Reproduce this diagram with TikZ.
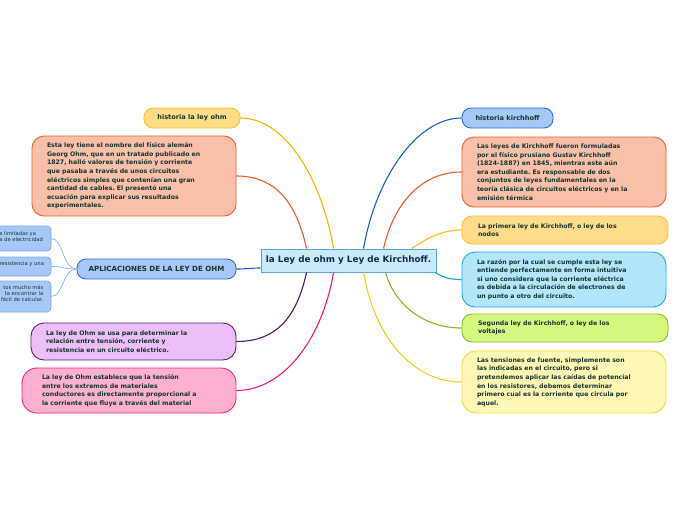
\documentclass[tikz,border=0pt]{standalone}
\usepackage{fontspec}
\setmainfont{DejaVu Sans}
\frenchspacing
\definecolor{txt}{HTML}{17352E}
\definecolor{ctxt}{HTML}{152A4A}
\definecolor{cfill}{HTML}{C8EAFB}
\definecolor{cdraw}{HTML}{5BA3D9}
\definecolor{ofill}{HTML}{FFDD88}
\definecolor{odraw}{HTML}{FFC125}
\definecolor{oline}{HTML}{F7B500}
\definecolor{rfill}{HTML}{F8BFA9}
\definecolor{rdraw}{HTML}{F0602E}
\definecolor{rline}{HTML}{F05A28}
\definecolor{bfill}{HTML}{A6C8F7}
\definecolor{bdraw}{HTML}{2D6FD2}
\definecolor{bline}{HTML}{1A5FC8}
\definecolor{pfill}{HTML}{ECBFF8}
\definecolor{pdraw}{HTML}{5C1E6E}
\definecolor{pline}{HTML}{4A1A6A}
\definecolor{kfill}{HTML}{FEB0D0}
\definecolor{kdraw}{HTML}{F2247A}
\definecolor{kline}{HTML}{F01E6E}
\definecolor{sdraw}{HTML}{7AAAE8}
\definecolor{sline}{HTML}{8DB5EA}
\definecolor{yfill}{HTML}{FFDC8C}
\definecolor{ydraw}{HTML}{FFC030}
\definecolor{yline}{HTML}{FFB81C}
\definecolor{zfill}{HTML}{B3E6FB}
\definecolor{zdraw}{HTML}{1BA8EA}
\definecolor{zline}{HTML}{10A0E8}
\definecolor{gfill}{HTML}{D7F880}
\definecolor{gdraw}{HTML}{8CBE22}
\definecolor{gline}{HTML}{88B820}
\definecolor{tfill}{HTML}{FFF8B6}
\definecolor{tdraw}{HTML}{F2D830}
\definecolor{tline}{HTML}{F0D020}
\begin{document}
\begin{tikzpicture}[x=1pt,y=-1pt,
  box/.style={rounded corners=12pt, line width=0.9pt, inner ysep=0pt, text=txt,
    font=\bfseries\fontsize{6.2}{8.6}\selectfont\frenchspacing, align=left},
  pill/.style={rounded corners=9pt, line width=0.9pt, inner sep=0pt, text=txt,
    font=\bfseries\fontsize{6.6}{8}\selectfont, align=center},
  subbox/.style={rounded corners=4pt, line width=0.7pt, inner sep=0pt, fill=bfill, draw=sdraw},
  subtext/.style={inner sep=0pt, text=txt, font=\fontsize{5.2}{5.9}\selectfont},
  conn/.style={line width=1.1pt},
  subconn/.style={line width=0.7pt, draw=sline}]
\useasboundingbox[fill=white] (0,0) rectangle (696,520);

% center
\node[draw=cdraw, fill=cfill, line width=0.9pt, inner sep=0pt, minimum width=175pt, minimum height=23pt,
  text=ctxt, font=\bfseries\fontsize{8.8}{10}\selectfont] (c) at (348.5,260.5) {la Ley de ohm y Ley de Kirchhoff.};

% left side
\node[pill, fill=ofill, draw=odraw, minimum width=96pt, minimum height=20pt] (h1) at (192,118) {historia la ley ohm};
\node[box, fill=rfill, draw=rdraw, minimum width=204pt, minimum height=80pt, text width=174pt, inner xsep=15pt] (e1) at (134,176)
 {Esta ley tiene el nombre del físico alemán\\Georg Ohm, que en un tratado publicado en\\1827, halló valores de tensión y corriente\\que pasaba a través de unos circuitos\\eléctricos simples que contenían una gran\\cantidad de cables. El presentó una\\ecuación para explicar sus resultados\\experimentales.};
\node[pill, fill=bfill, draw=bdraw, minimum width=159pt, minimum height=20pt, font=\bfseries\fontsize{7.1}{8}\selectfont] (ap) at (156.5,269) {APLICACIONES DE LA LEY DE OHM};
\node[box, fill=pfill, draw=pdraw, rounded corners=13pt, minimum width=205pt, minimum height=37pt, text width=175pt, inner xsep=15pt] (pu) at (133.5,341.5)
 {La ley de Ohm se usa para determinar la\\relación entre tensión, corriente y\\resistencia en un circuito eléctrico.};
\node[box, fill=kfill, draw=kdraw, rounded corners=15pt, minimum width=214pt, minimum height=45pt, text width=174pt, inner xsep=20pt] (pk) at (129,390.5)
 {La ley de Ohm establece que la tensión\\entre los extremos de materiales\\conductores es directamente proporcional a\\la corriente que fluye a través del material};

% sub nodes of APLICACIONES
\node[subbox, minimum width=61pt, minimum height=25pt] (s1) at (20.5,238.5) {};
\node[subbox, minimum width=61pt, minimum height=19pt] (s2) at (20.5,266.5) {};
\node[subbox, minimum width=61pt, minimum height=31pt] (s3) at (20.5,296.5) {};
\node[subtext, align=left, anchor=west] (s1t) at (-0.8,236.8) {e limitadas ya\\a de electricidad};
\node[subtext, align=left, anchor=west] (s2t) at (-0.5,264.5) {resistencia y una};
\node[subtext, align=right, anchor=east] (s3t) at (43.5,293.5) {tos mucho más\\ta encontrar la\\fácil de calcular.};

% right side
\node[pill, fill=bfill, draw=bdraw, minimum width=91pt, minimum height=20pt] (hk) at (507.5,118) {historia kirchhoff};
\node[box, fill=rfill, draw=rdraw, minimum width=204pt, minimum height=70pt, text width=174pt, inner xsep=15pt] (lk) at (564,172)
 {Las leyes de Kirchhoff fueron formuladas\\por el físico prusiano Gustav Kirchhoff\\(1824-1887) en 1845, mientras este aún\\era estudiante. Es responsable de dos\\conjuntos de leyes fundamentales en la\\teoría clásica de circuitos eléctricos y en la\\emisión térmica};
\node[box, fill=yfill, draw=ydraw, rounded corners=10pt, minimum width=206pt, minimum height=28pt, text width=174pt, inner xsep=16pt] (pr) at (565,230)
 {La primera ley de Kirchhoff, o ley de los\\nodos};
\node[box, fill=zfill, draw=zdraw, rounded corners=13pt, minimum width=204pt, minimum height=55pt, text width=174pt, inner xsep=15pt] (rz) at (564,279.5)
 {La razón por la cual se cumple esta ley se\\entiende perfectamente en forma intuitiva\\si uno considera que la corriente eléctrica\\es debida a la circulación de electrones de\\un punto a otro del circuito.};
\node[box, fill=gfill, draw=gdraw, rounded corners=10pt, minimum width=206pt, minimum height=28pt, text width=174pt, inner xsep=16pt] (sg) at (565,328)
 {Segunda ley de Kirchhoff, o ley de los\\voltajes};
\node[box, fill=tfill, draw=tdraw, rounded corners=14pt, minimum width=204pt, minimum height=62pt, text width=174pt, inner xsep=15pt] (tn) at (564,382)
 {Las tensiones de fuente, simplemente son\\las indicadas en el circuito, pero si\\pretendemos aplicar las caídas de potencial\\en los resistores, debemos determinar\\primero cual es la corriente que circula por\\aquel.};

% connectors left
\draw[conn, draw=oline] ([xshift=73pt]c.north west) .. controls +(-12,-70) and +(45,0) .. (h1.east);
\draw[conn, draw=rline] ([xshift=46pt]c.north west) .. controls +(-10,-45) and +(40,0) .. (e1.east);
\draw[conn, draw=bline] ([yshift=-7.5pt]c.west) .. controls +(-10,0) and +(10,0) .. (ap.east);
\draw[conn, draw=pline] ([xshift=46pt]c.south west) .. controls +(-10,45) and +(40,0) .. (pu.east);
\draw[conn, draw=kline] ([xshift=73pt]c.south west) .. controls +(-12,70) and +(45,0) .. (pk.east);
% sub connectors
\draw[subconn] (ap.west) .. controls +(-14,0) and +(12,0) .. (s1.east);
\draw[subconn] (ap.west) .. controls +(-14,0) and +(12,0) .. (s2.east);
\draw[subconn] (ap.west) .. controls +(-14,0) and +(12,0) .. (s3.east);
% connectors right
\draw[conn, draw=bline] ([xshift=103pt]c.north west) .. controls +(12,-70) and +(-45,0) .. (hk.west);
\draw[conn, draw=rline] ([xshift=123pt]c.north west) .. controls +(10,-45) and +(-40,0) .. (lk.west);
\draw[conn, draw=yline] ([xshift=151pt]c.north west) .. controls +(15,-10) and +(-20,0) .. (pr.west);
\draw[conn, draw=zline] ([xshift=-1.5pt]c.south east) .. controls +(10,6) and +(-10,0) .. (rz.west);
\draw[conn, draw=gline] ([xshift=125pt]c.south west) .. controls +(10,35) and +(-35,0) .. (sg.west);
\draw[conn, draw=tline] ([xshift=103pt]c.south west) .. controls +(12,70) and +(-45,0) .. (tn.west);
\end{tikzpicture}
\end{document}
